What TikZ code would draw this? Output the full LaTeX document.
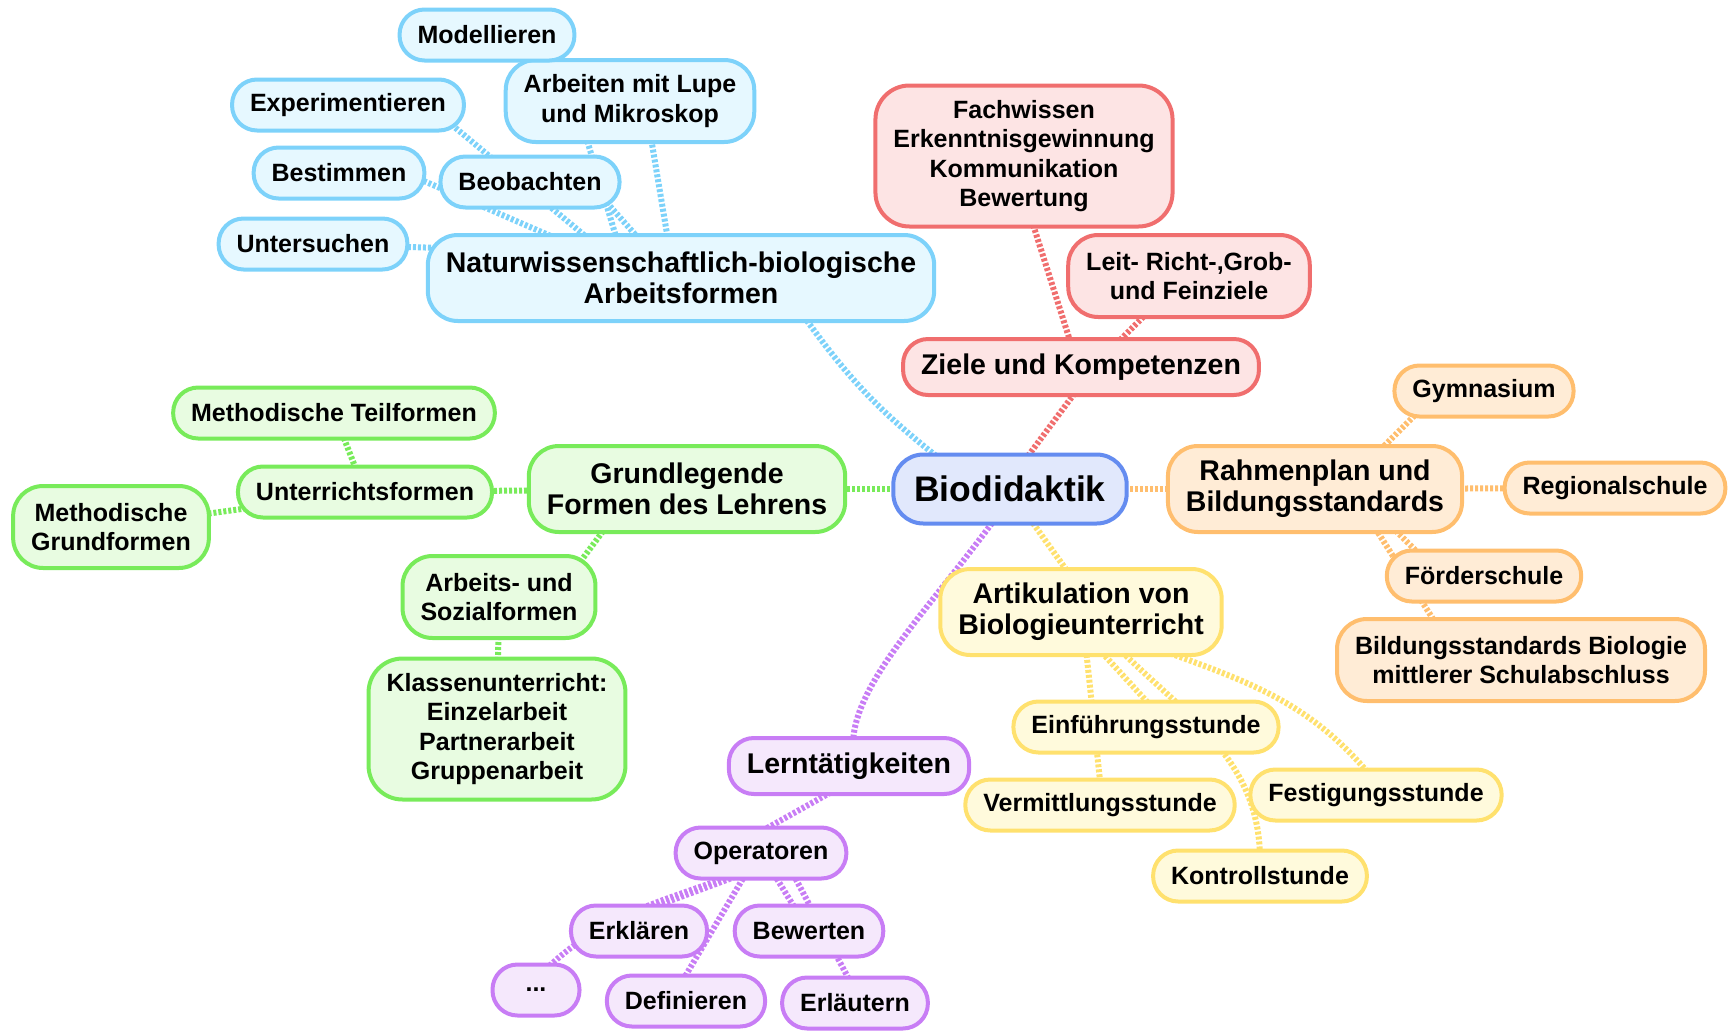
\documentclass[tikz,border=0pt]{standalone}
\usepackage{fontspec}
\setmainfont{Liberation Sans}
\usetikzlibrary{backgrounds}

\definecolor{nwRand}{RGB}{125,210,250}
\definecolor{nwFond}{RGB}{230,248,255}
\definecolor{zkRand}{RGB}{240,110,110}
\definecolor{zkFond}{RGB}{253,228,228}
\definecolor{kernRand}{RGB}{100,140,240}
\definecolor{kernFond}{RGB}{225,232,252}
\definecolor{flRand}{RGB}{120,235,90}
\definecolor{flFond}{RGB}{232,252,225}
\definecolor{rpRand}{RGB}{255,190,110}
\definecolor{rpFond}{RGB}{255,236,214}
\definecolor{abRand}{RGB}{255,225,110}
\definecolor{abFond}{RGB}{255,250,220}
\definecolor{ltRand}{RGB}{200,125,245}
\definecolor{ltFond}{RGB}{245,232,252}

\begin{document}
\begin{tikzpicture}[
    x = 1pt, y = -1pt,
    box/.style = {
        rectangle,
        rounded corners = 25pt,
        line width      = 4pt,
        inner xsep      = 18pt,
        inner ysep      = 2pt,
        align           = center,
        font            = \bfseries\fontsize{25}{29.5}\selectfont
    },
    leaf/.style    = {box, minimum height = 51pt},
    leafz/.style   = {box, minimum height = 82pt, rounded corners = 30pt},
    leafv/.style   = {box, minimum height = 141pt, rounded corners = 34pt},
    branch/.style  = {box, minimum height = 56pt,
                      font = \bfseries\fontsize{28.5}{31}\selectfont},
    branchz/.style = {branch, minimum height = 86pt, rounded corners = 30pt},
    kern/.style    = {box, minimum height = 69pt, inner xsep = 21pt,
                      rounded corners = 30pt,
                      font = \bfseries\fontsize{35.5}{40}\selectfont},
    nw/.style = {draw = nwRand,   fill = nwFond},
    zk/.style = {draw = zkRand,   fill = zkFond},
    fl/.style = {draw = flRand,   fill = flFond},
    rp/.style = {draw = rpRand,   fill = rpFond},
    ab/.style = {draw = abRand,   fill = abFond},
    lt/.style = {draw = ltRand,   fill = ltFond},
    link/.style = {line width = 6pt, dash pattern = on 3pt off 2pt}
]

\useasboundingbox (0,0) rectangle (1730,1031);

% ================================================================
%  ZENTRUM
% ================================================================

\node[kern, draw = kernRand, fill = kernFond] (root) at (1010,489) {Biodidaktik};

% ================================================================
%  NATURWISSENSCHAFTLICHE ARBEITSFORMEN (blau)
% ================================================================

\node[branchz, nw] (nat)  at (681,278) {Naturwissenschaftlich-biologische\\Arbeitsformen};
\node[leafz, nw]   (arb)  at (630,101) {Arbeiten mit Lupe\\und Mikroskop};
\node[leaf, nw]    (mod)  at (487,35)  {Modellieren};
\node[leaf, nw]    (exp)  at (348,105) {Experimentieren};
\node[leaf, nw]    (best) at (339,173) {Bestimmen};
\node[leaf, nw]    (beo)  at (530,182) {Beobachten};
\node[leaf, nw]    (unt)  at (313,244) {Untersuchen};

% ================================================================
%  ZIELE UND KOMPETENZEN (rot)
% ================================================================

\node[branch, zk] (ziele) at (1081,367) {Ziele und Kompetenzen};
\node[leafv, zk]  (fach)  at (1024,156) {Fachwissen\\Erkenntnisgewinnung\\Kommunikation\\Bewertung};
\node[leafz, zk]  (leit)  at (1189,276) {Leit- Richt-,Grob-\\und Feinziele};

% ================================================================
%  FORMEN DES LEHRENS (gruen)
% ================================================================

\node[branchz, fl] (grund)  at (687,489) {Grundlegende\\Formen des Lehrens};
\node[leaf, fl]    (unter)  at (365,492) {Unterrichtsformen};
\node[leaf, fl]    (teil)   at (334,413) {Methodische Teilformen};
\node[leafz, fl]   (mgrund) at (111,527) {Methodische\\Grundformen};
\node[leafz, fl]   (arbs)   at (499,597) {Arbeits- und\\Sozialformen};
\node[leafv, fl]   (klass)  at (497,729) {Klassenunterricht:\\Einzelarbeit\\Partnerarbeit\\Gruppenarbeit};

% ================================================================
%  RAHMENPLAN (orange)
% ================================================================

\node[branchz, rp] (rahmen) at (1315,489) {Rahmenplan und\\Bildungsstandards};
\node[leaf, rp]    (gym)    at (1484,391) {Gymnasium};
\node[leaf, rp]    (reg)    at (1615,488) {Regionalschule};
\node[leaf, rp]    (foerd)  at (1484,576) {Förderschule};
\node[leafz, rp]   (bstand) at (1521,660) {Bildungsstandards Biologie\\mittlerer Schulabschluss};

% ================================================================
%  ARTIKULATION (gelb)
% ================================================================

\node[branchz, ab] (artik) at (1081,612) {Artikulation von\\Biologieunterricht};
\node[leaf, ab]    (einf)  at (1146,727) {Einführungsstunde};
\node[leaf, ab]    (verm)  at (1100,805) {Vermittlungsstunde};
\node[leaf, ab]    (fest)  at (1376,795) {Festigungsstunde};
\node[leaf, ab]    (kontr) at (1260,876) {Kontrollstunde};

% ================================================================
%  LERNTAETIGKEITEN (violett)
% ================================================================

\node[branch, lt] (lern) at (849,766)  {Lerntätigkeiten};
\node[leaf, lt]   (oper) at (761,853)  {Operatoren};
\node[leaf, lt]   (erk)  at (639,931)  {Erklären};
\node[leaf, lt]   (bew)  at (809,931)  {Bewerten};
\node[leaf, lt, minimum width = 87pt] (dots) at (536,990) {...};
\node[leaf, lt]   (def)  at (686,1001) {Definieren};
\node[leaf, lt]   (erl)  at (855,1003) {Erläutern};

% ================================================================
%  VERBINDUNGEN (hinter den Knoten)
% ================================================================

\begin{scope}[on background layer]

% blau
\draw[link, nwRand] ([shift={(-70,-30)}]root.center) to[bend left=8] ([shift={(124,40)}]nat.center);
\draw[link, nwRand] ([shift={(92,10)}]exp.center)  -- ([shift={(-91,-38)}]nat.center);
\draw[link, nwRand] ([shift={(71,2)}]best.center)  -- ([shift={(-121,-38)}]nat.center);
\draw[link, nwRand] ([shift={(70,13)}]beo.center)  -- ([shift={(-41,-38)}]nat.center);
\draw[link, nwRand] ([shift={(73,15)}]mod.center)  -- ([shift={(-64,-38)}]nat.center);
\draw[link, nwRand] ([shift={(18,19)}]arb.center)  -- ([shift={(-13,-38)}]nat.center);
\draw[link, nwRand] (unt.center) -- ([shift={(-240,-30)}]nat.center);

% rot
\draw[link, zkRand] ([shift={(15,-29)}]root.center) -- ([shift={(-4,23)}]ziele.center);
\draw[link, zkRand] ([shift={(-9,-20)}]ziele.center) -- ([shift={(6,59)}]fach.center);
\draw[link, zkRand] ([shift={(32,-20)}]ziele.center) -- ([shift={(-29,24)}]leit.center);

% gruen
\draw[link, flRand] (root.center)  -- (grund.center);
\draw[link, flRand] (grund.center) -- (unter.center);
\draw[link, flRand] (unter.center) -- (teil.center);
\draw[link, flRand] (unter.center) -- (mgrund.center);
\draw[link, flRand] ([shift={(-75,30)}]grund.center) -- ([shift={(70,-20)}]arbs.center);
\draw[link, flRand] (arbs.center)  -- (klass.center);

% orange
\draw[link, rpRand] (root.center)   -- (rahmen.center);
\draw[link, rpRand] (rahmen.center) -- (reg.center);
\draw[link, rpRand] ([shift={(55,-29)}]rahmen.center) -- ([shift={(-54,9)}]gym.center);
\draw[link, rpRand] ([shift={(70,31)}]rahmen.center)  -- ([shift={(-54,-11)}]foerd.center);
\draw[link, rpRand] ([shift={(55,31)}]rahmen.center)  -- ([shift={(-81,-30)}]bstand.center);

% gelb
\draw[link, abRand] ([shift={(20,30)}]root.center) -- ([shift={(-11,-37)}]artik.center);
\draw[link, abRand] ([shift={(14,33)}]artik.center) -- ([shift={(4,-22)}]einf.center);
\draw[link, abRand] ([shift={(4,28)}]artik.center)  -- ([shift={(1,-15)}]verm.center);
\draw[link, abRand] ([shift={(34,33)}]artik.center) to[out=-45, in=90]  ([shift={(0,-16)}]kontr.center);
\draw[link, abRand] ([shift={(80,38)}]artik.center) to[out=-20, in=130] ([shift={(-6,-20)}]fest.center);

% violett
\draw[link, ltRand] ([shift={(-15,30)}]root.center) .. controls +(-70,95) and +(0,-60) .. ([shift={(4,-21)}]lern.center);
\draw[link, ltRand] ([shift={(-14,24)}]lern.center) -- ([shift={(-1,-21)}]oper.center);
\draw[link, ltRand] ([shift={(-21,22)}]oper.center) -- ([shift={(1,-19)}]erk.center);
\draw[link, ltRand] ([shift={(-36,25)}]oper.center) to[out=200, in=45] ([shift={(4,-15)}]dots.center);
\draw[link, ltRand] ([shift={(-13,17)}]oper.center) -- ([shift={(-6,-16)}]def.center);
\draw[link, ltRand] (oper.center) -- (bew.center);
\draw[link, ltRand] ([shift={(30,17)}]oper.center)  -- ([shift={(-3,-18)}]erl.center);

\end{scope}

\end{tikzpicture}
\end{document}
